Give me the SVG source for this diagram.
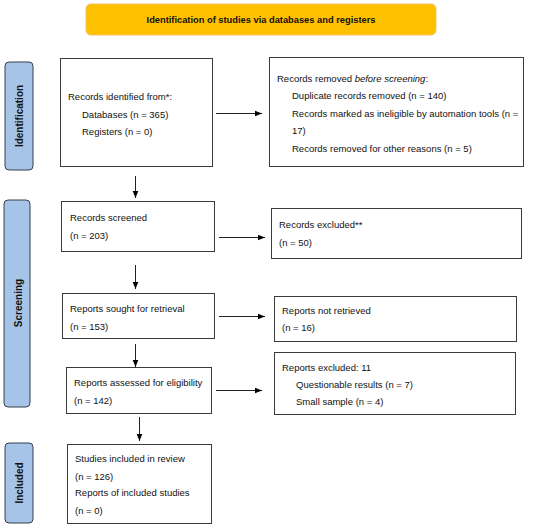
<svg xmlns="http://www.w3.org/2000/svg" width="550" height="529" viewBox="0 0 550 529">
<defs>
<marker id="ah" viewBox="0 0 10 10" refX="10" refY="5" markerWidth="7" markerHeight="7" markerUnits="userSpaceOnUse" orient="auto"><path d="M0,1 L10,5 L0,9 z" fill="#000"/></marker>
<style>
.box{fill:#fff;stroke:#3a3a3a;stroke-width:1}
.side{fill:#A6C4E8;stroke:#34404c;stroke-width:1}
.hdr{fill:#FFC000;stroke:#F2C45A;stroke-width:1}
.t{font-family:"Liberation Sans",Arial,sans-serif;font-size:9.5px;fill:#111}
.b{font-family:"Liberation Sans",Arial,sans-serif;font-size:9.3px;font-weight:bold;fill:#111}
.sl{font-family:"Liberation Sans",Arial,sans-serif;font-size:10px;font-weight:bold;fill:#111;text-anchor:middle}
.c{stroke:#222;stroke-width:1;fill:none;marker-end:url(#ah)}
</style>
</defs>
<rect width="550" height="529" fill="#fff"/>
<g id="header"><rect class="hdr" x="86" y="4" width="350" height="31" rx="5"/><text class="b" x="261" y="23" text-anchor="middle">Identification of studies via databases and registers</text></g>
<g id="lbl-identification"><rect class="side" x="5" y="62" width="28" height="108" rx="4"/><text class="sl" transform="translate(22.5,116) rotate(-90)">Identification</text></g>
<g id="lbl-screening"><rect class="side" x="4" y="200" width="26" height="207" rx="4"/><text class="sl" transform="translate(21.5,303) rotate(-90)">Screening</text></g>
<g id="lbl-included"><rect class="side" x="5" y="443" width="28" height="80" rx="4"/><text class="sl" transform="translate(22.5,483) rotate(-90)">Included</text></g>
<g id="n-identified"><rect class="box" x="60.5" y="58.5" width="152" height="108"/><text class="t" x="68" y="100">Records identified from*:</text><text class="t" x="82" y="117.5">Databases (n = 365)</text><text class="t" x="82" y="135">Registers (n = 0)</text></g>
<g id="n-removed"><rect class="box" x="269.5" y="57.5" width="254" height="109"/><text class="t" x="277" y="81.5">Records removed <tspan font-style="italic">before screening</tspan>:</text><text class="t" x="292" y="99">Duplicate records removed (n = 140)</text><text class="t" x="292" y="116.5">Records marked as ineligible by automation tools (n =</text><text class="t" x="292" y="134">17)</text><text class="t" x="292" y="151.5">Records removed for other reasons (n = 5)</text></g>
<g id="n-screened"><rect class="box" x="61.5" y="201.5" width="153" height="50"/><text class="t" x="70" y="221">Records screened</text><text class="t" x="70" y="238.5">(n = 203)</text></g>
<g id="n-excluded"><rect class="box" x="271.5" y="208.5" width="250" height="50"/><text class="t" x="279" y="228">Records excluded**</text><text class="t" x="279" y="245.5">(n = 50)</text></g>
<g id="n-sought"><rect class="box" x="62.5" y="293.5" width="152" height="45"/><text class="t" x="70" y="312">Reports sought for retrieval</text><text class="t" x="70" y="329.5">(n = 153)</text></g>
<g id="n-notretrieved"><rect class="box" x="274.5" y="296.5" width="242" height="45"/><text class="t" x="282" y="313.5">Reports not retrieved</text><text class="t" x="282" y="331">(n = 16)</text></g>
<g id="n-assessed"><rect class="box" x="66.5" y="367.5" width="145" height="46"/><text class="t" x="74" y="386">Reports assessed for eligibility</text><text class="t" x="74" y="403.5">(n = 142)</text></g>
<g id="n-reportsexcluded"><rect class="box" x="274.5" y="352.5" width="241" height="62"/><text class="t" x="282" y="370.5">Reports excluded: 11</text><text class="t" x="296" y="387.5">Questionable results (n = 7)</text><text class="t" x="296" y="405">Small sample (n = 4)</text></g>
<g id="n-included"><rect class="box" x="67.5" y="444.5" width="144" height="79"/><text class="t" x="75" y="461.5">Studies included in review</text><text class="t" x="75" y="479.5">(n = 126)</text><text class="t" x="75" y="496">Reports of included studies</text><text class="t" x="75" y="514">(n = 0)</text></g>
<g id="connectors">
<line class="c" x1="216" y1="113.5" x2="262" y2="113.5"/>
<line class="c" x1="135.5" y1="176" x2="135.5" y2="198"/>
<line class="c" x1="219" y1="237.5" x2="265" y2="237.5"/>
<line class="c" x1="135.5" y1="265" x2="135.5" y2="289"/>
<line class="c" x1="219" y1="316.5" x2="265" y2="316.5"/>
<line class="c" x1="135.5" y1="344" x2="135.5" y2="367"/>
<line class="c" x1="216" y1="390.5" x2="262" y2="390.5"/>
<line class="c" x1="139.5" y1="417" x2="139.5" y2="441"/>
</g>
</svg>
